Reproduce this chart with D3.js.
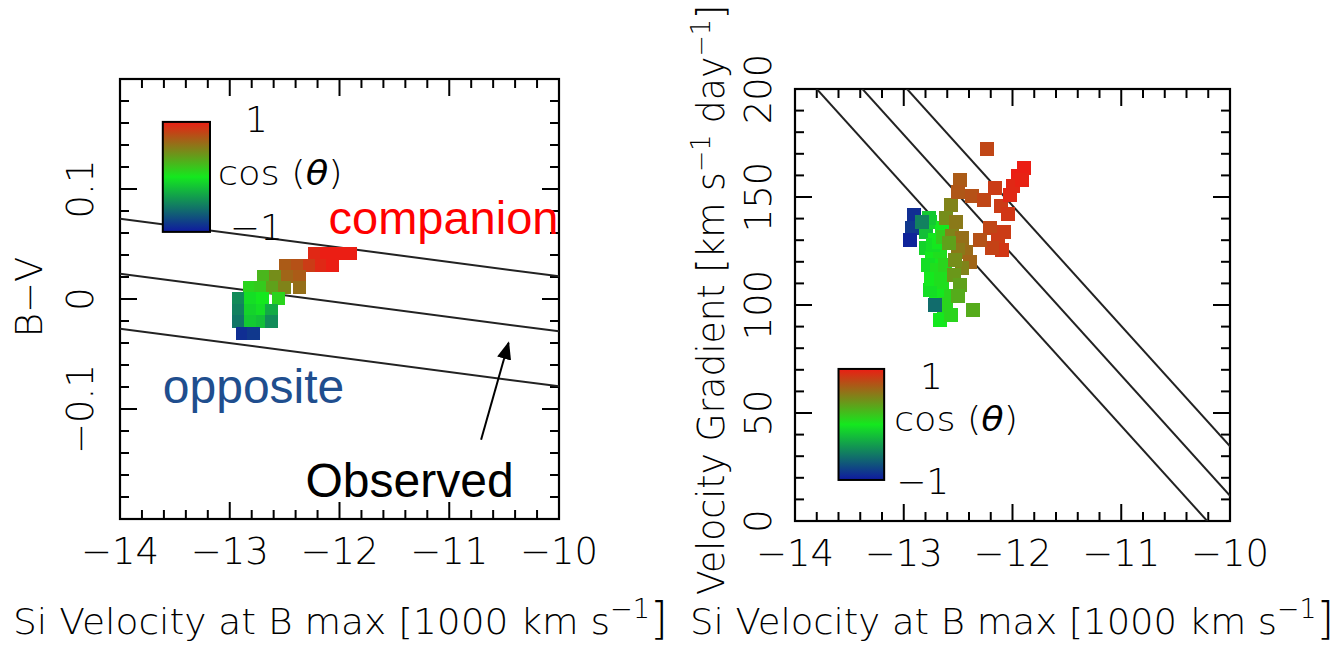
<!DOCTYPE html>
<html><head><meta charset="utf-8">
<script src="https://cdn.jsdelivr.net/npm/d3@7"></script>
<style>
body{margin:0;background:#fff}
.ax{font-family:"DejaVu Sans",sans-serif;font-weight:200;fill:#000}
.ann{font-family:"Liberation Sans",Arial,sans-serif}
</style>
</head><body>
<svg id="c" width="1342" height="647"></svg>
<script>
// ---------- data ----------
const xTicks = [-14, -13, -12, -11, -10];
const xTickLabels = ["−14", "−13", "−12", "−11", "−10"];
const leftYTicks = [-0.1, 0, 0.1];
const leftYTickLabels = ["−0.1", "0", "0.1"];
const rightYTicks = [0, 50, 100, 150, 200];
const rightYTickLabels = ["0", "50", "100", "150", "200"];

// left panel: Si velocity vs B-V, coloured by cos(theta)
const leftX = [-12.23,-12.12,-12.01,-11.90,
  -12.49,-12.38,-12.27,-12.16,-12.06,
  -12.69,-12.58,-12.47,-12.36,
  -12.82,-12.72,-12.61,-12.50,-12.36,
  -12.92,-12.81,-12.70,-12.56,
  -12.92,-12.81,-12.70,-12.62,
  -12.92,-12.81,-12.70,-12.62,
  -12.88,-12.78];
const leftY = [0.0418,0.0418,0.0418,0.0418,
  0.0309,0.0309,0.0309,0.0309,0.0309,
  0.0209,0.0209,0.0209,0.0209,
  0.0109,0.0109,0.0109,0.0109,0.0109,
  0.0009,0.0009,0.0009,0.0009,
  -0.0100,-0.0100,-0.0100,-0.0100,
  -0.0200,-0.0200,-0.0200,-0.0200,
  -0.0318,-0.0318];
const leftCos = [0.95,1,1,1,
  0.7,0.75,0.85,0.95,1.0,
  0.25,0.45,0.65,0.7,
  0.1,0.15,0.35,0.5,0.6,
  -0.45,-0.05,0.0,0.1,
  -0.5,-0.1,-0.05,-0.3,
  -0.55,-0.15,-0.2,-0.45,
  -0.9,-0.85];

// right panel: Si velocity vs velocity gradient
const rightX = [-12.80,-12.76,-12.71,-12.80,-12.74,-12.67,-12.78,-12.69,-12.62,-12.72,-12.65,-12.59,-12.69,-12.63,-12.67,-12.57,-12.65,-12.76,
  -12.73,-12.75,-12.66,-12.70,-12.61,-12.77,-12.68,-12.64,
  -12.91,-12.92,-12.94,-12.83,-12.71,
  -12.57,-12.61,-12.52,-12.56,-12.46,-12.43,-12.50,-12.39,-12.46,-12.54,-12.48,-12.50,-12.36,-12.53,-12.58,
  -12.48,-12.50,-12.37,-12.26,-12.16,-12.11,-12.04,
  -12.21,-12.13,-12.08,-12.10,-12.19,-12.30,
  -12.23,
  -11.89,-11.95,-12.00,-12.02,-11.91];
const rightY = [133.8,138.4,130.1,126.4,121.8,124.5,118.5,116.2,118.5,110.6,107.9,104.2,104.2,97.7,93.1,95.4,135.6,106.9,
  128.0,112.0,112.0,100.5,100.5,140.5,129.0,131.5,
  141.7,135.6,130.1,138.4,100.0,
  146.3,140.3,138.4,131.9,131.0,124.5,125.5,119.9,117.1,113.9,109.3,104.2,97.7,121.0,128.5,
  157.9,152.3,150.5,148.6,154.2,145.8,142.1,
  135.6,130.1,133.8,125.5,126.4,130.1,
  172.2,
  163.4,159.7,155.1,150.9,157.9];
const rightCos = [-0.2,-0.1,0.0,-0.1,0.0,0.05,-0.05,0.05,0.1,0.0,0.05,0.1,0.0,0.05,0.0,0.1,0.0,-0.05,
  -0.05,0.0,0.05,0.0,0.1,-0.15,0.0,0.15,
  -0.9,-0.85,-0.95,-0.5,-0.6,
  0.5,0.45,0.55,0.5,0.6,0.62,0.55,0.65,0.5,0.4,0.35,0.3,0.3,0.45,0.35,
  0.7,0.72,0.75,0.8,0.85,0.85,0.88,
  0.8,0.85,0.85,0.88,0.82,0.75,
  0.8,
  1.0,1.0,0.95,0.95,0.98];

// model lines
const leftLineStart = [0.073, 0.023, -0.027];   // B-V at v = -14
const leftLineSlope = -0.0131;
const rightLineX0 = [-13.80, -13.38, -12.97];   // v where gradient = 200
const rightLineSlope = -55.7;

// colour scale cos(theta): -1 blue, 0 green, 1 red
const cmap = d3.scaleLinear().domain([-1, 0, 1])
  .range(["rgb(15,25,160)", "rgb(20,232,30)", "rgb(235,30,20)"])
  .interpolate(d3.interpolateRgb);

// ---------- drawing ----------
const svg = d3.select("#c");
const defs = svg.append("defs");
const grad = defs.append("linearGradient").attr("id","cbar")
  .attr("x1",0).attr("y1",0).attr("x2",0).attr("y2",1);
d3.range(0, 1.0001, 0.1).forEach(t => {
  grad.append("stop").attr("offset", t).attr("stop-color", cmap(1 - 2*t));
});
defs.append("marker").attr("id","arr").attr("viewBox","0 0 10 10")
  .attr("refX",9).attr("refY",5).attr("markerWidth",9).attr("markerHeight",9)
  .attr("orient","auto").append("path").attr("d","M0,1 L10,5 L0,9 Z").attr("fill","#000");

function panel(opt) {
  const {x0, x1, y0, y1, yDomain, yMinor, yMajor, id} = opt;
  const x = d3.scaleLinear().domain([-14, -10]).range([x0, x1]);
  const y = d3.scaleLinear().domain(yDomain).range([y1, y0]);
  const g = svg.append("g");
  defs.append("clipPath").attr("id", id).append("rect")
    .attr("x", x0).attr("y", y0).attr("width", x1 - x0).attr("height", y1 - y0);
  const xMinor = d3.range(-14, -9.999, 0.2);
  const tg = g.append("g").attr("stroke","#000").attr("stroke-width",2);
  const isMajor = (v, arr) => arr.some(m => Math.abs(m - v) < 1e-6);
  xMinor.forEach(v => {
    const len = isMajor(v, xTicks) ? 17 : 9;
    tg.append("line").attr("x1", x(v)).attr("x2", x(v)).attr("y1", y1).attr("y2", y1 - len);
    tg.append("line").attr("x1", x(v)).attr("x2", x(v)).attr("y1", y0).attr("y2", y0 + len);
  });
  yMinor.forEach(v => {
    const len = isMajor(v, yMajor) ? 17 : 9;
    tg.append("line").attr("y1", y(v)).attr("y2", y(v)).attr("x1", x0).attr("x2", x0 + len);
    tg.append("line").attr("y1", y(v)).attr("y2", y(v)).attr("x1", x1).attr("x2", x1 - len);
  });
  g.append("rect").attr("x", x0).attr("y", y0).attr("width", x1 - x0).attr("height", y1 - y0)
    .attr("fill","none").attr("stroke","#000").attr("stroke-width",2.2);
  g.selectAll(".xl").data(xTicks).enter().append("text").attr("class","ax")
    .attr("x", d => x(d)).attr("y", y1 + 45).attr("text-anchor","middle")
    .attr("font-size", 37).text((d,i) => xTickLabels[i]);
  return {x, y, g};
}

// ----- left panel -----
const L = panel({x0:120, x1:559, y0:79, y1:519, yDomain:[-0.2,0.2],
  yMinor: d3.range(-0.2, 0.2001, 0.02), yMajor: leftYTicks, id:"clipL"});
L.g.selectAll(".yl").data(leftYTicks).enter().append("text").attr("class","ax")
  .attr("transform", d => `translate(93,${L.y(d)}) rotate(-90)`).attr("text-anchor","middle")
  .attr("font-size", 37).text((d,i) => leftYTickLabels[i]);
L.g.append("text").attr("class","ax").attr("transform","translate(42,297) rotate(-90)")
  .attr("text-anchor","middle").attr("font-size",37).text("B−V");

const clipL = L.g.append("g").attr("clip-path","url(#clipL)");
leftLineStart.forEach(c => {
  clipL.append("line").attr("x1", L.x(-14)).attr("y1", L.y(c))
    .attr("x2", L.x(-10)).attr("y2", L.y(c + 4*leftLineSlope))
    .attr("stroke","#222").attr("stroke-width",2);
});
const sqL = 13;
clipL.selectAll(".pt").data(leftX.map((v,i)=>({v, b:leftY[i], c:leftCos[i]}))).enter()
  .append("rect").attr("x", d => L.x(d.v) - sqL/2).attr("y", d => L.y(d.b) - sqL/2)
  .attr("width", sqL).attr("height", sqL).attr("fill", d => cmap(d.c))
  .attr("shape-rendering","crispEdges");

// colour bar left
L.g.append("rect").attr("x", L.x(-13.61)).attr("y", L.y(0.161))
  .attr("width", L.x(-13.18) - L.x(-13.61)).attr("height", L.y(0.061) - L.y(0.161))
  .attr("fill","url(#cbar)").attr("stroke","#000").attr("stroke-width",2);
L.g.append("text").attr("class","ax").attr("x", L.x(-12.86)).attr("y", L.y(0.152)).attr("font-size",36).text("1");
L.g.append("text").attr("class","ax").attr("x", L.x(-13.11)).attr("y", L.y(0.104)).attr("font-size",34)
  .attr("textLength",125).attr("lengthAdjust","spacingAndGlyphs")
  .html('cos (<tspan font-style="italic">θ</tspan>)');
L.g.append("text").attr("class","ax").attr("x", L.x(-13.0)).attr("y", L.y(0.054)).attr("font-size",36).text("−1");

// annotations
L.g.append("text").attr("class","ann").attr("x", L.x(-12.10)).attr("y", L.y(0.059))
  .attr("font-size",47).attr("fill","#ff0000").text("companion");
L.g.append("text").attr("class","ann").attr("x", L.x(-13.61)).attr("y", L.y(-0.0945))
  .attr("font-size",48).attr("fill","#1f4e8e").text("opposite");
L.g.append("text").attr("class","ann").attr("x", L.x(-12.31)).attr("y", L.y(-0.18))
  .attr("font-size",48).attr("fill","#000").text("Observed");
L.g.append("line").attr("x1", L.x(-10.71)).attr("y1", L.y(-0.128))
  .attr("x2", L.x(-10.46)).attr("y2", L.y(-0.040))
  .attr("stroke","#000").attr("stroke-width",2).attr("marker-end","url(#arr)");

// ----- right panel -----
const R = panel({x0:795, x1:1230, y0:89, y1:521, yDomain:[0,200],
  yMinor: d3.range(0, 200.001, 10), yMajor: rightYTicks, id:"clipR"});
R.g.selectAll(".yl").data(rightYTicks).enter().append("text").attr("class","ax")
  .attr("transform", d => `translate(771,${R.y(d)}) rotate(-90)`).attr("text-anchor","middle")
  .attr("font-size", 37).text((d,i) => rightYTickLabels[i]);
R.g.append("text").attr("class","ax").attr("transform","translate(724,300) rotate(-90)")
  .attr("text-anchor","middle").attr("font-size",37)
  .attr("textLength",590).attr("lengthAdjust","spacingAndGlyphs")
  .html('Velocity Gradient [km s<tspan dy="-14" font-size="26">−1</tspan><tspan dy="14"> day</tspan><tspan dy="-14" font-size="26">−1</tspan><tspan dy="14">]</tspan>');

const clipR = R.g.append("g").attr("clip-path","url(#clipR)");
rightLineX0.forEach(x0 => {
  const xa = -14.5, xb = -9.5;
  clipR.append("line").attr("x1", R.x(xa)).attr("y1", R.y(200 + rightLineSlope*(xa - x0)))
    .attr("x2", R.x(xb)).attr("y2", R.y(200 + rightLineSlope*(xb - x0)))
    .attr("stroke","#222").attr("stroke-width",2);
});
const sqR = 14;
clipR.selectAll(".pt").data(rightX.map((v,i)=>({v, g:rightY[i], c:rightCos[i]}))).enter()
  .append("rect").attr("x", d => R.x(d.v) - sqR/2).attr("y", d => R.y(d.g) - sqR/2)
  .attr("width", sqR).attr("height", sqR).attr("fill", d => cmap(d.c))
  .attr("shape-rendering","crispEdges");

R.g.append("rect").attr("x", R.x(-13.60)).attr("y", R.y(70.4))
  .attr("width", R.x(-13.18) - R.x(-13.60)).attr("height", R.y(19.0) - R.y(70.4))
  .attr("fill","url(#cbar)").attr("stroke","#000").attr("stroke-width",2);
R.g.append("text").attr("class","ax").attr("x", R.x(-12.85)).attr("y", R.y(61)).attr("font-size",36).text("1");
R.g.append("text").attr("class","ax").attr("x", R.x(-13.09)).attr("y", R.y(41.5)).attr("font-size",34)
  .attr("textLength",124).attr("lengthAdjust","spacingAndGlyphs")
  .html('cos (<tspan font-style="italic">θ</tspan>)');
R.g.append("text").attr("class","ax").attr("x", R.x(-13.07)).attr("y", R.y(12.5)).attr("font-size",36).text("−1");

// x titles
function xTitle(xs, w) {
  svg.append("text").attr("class","ax").attr("x", xs).attr("y", 634).attr("font-size",36)
    .attr("textLength", w).attr("lengthAdjust","spacingAndGlyphs")
    .html('Si Velocity at B max [1000 km s<tspan dy="-16" font-size="26">−1</tspan><tspan dy="16" font-size="44">]</tspan>');
}
xTitle(13, 655);
xTitle(690, 644);
</script>
</body></html>
